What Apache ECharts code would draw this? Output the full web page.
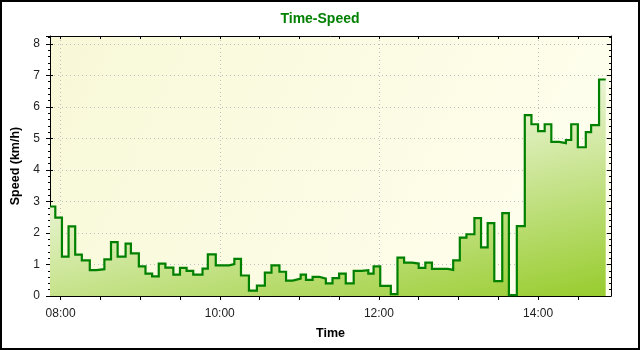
<!DOCTYPE html>
<html><head><meta charset="utf-8">
<script src="https://cdn.jsdelivr.net/npm/echarts@6/dist/echarts.min.js"></script>
<style>html,body{margin:0;padding:0;background:#fff}#c{width:640px;height:350px}</style>
</head><body><div id="c"></div>
<script>
const titleText = 'Time-Speed';
const xName = 'Time';
const yName = 'Speed (km/h)';
const axisStart = '07:52';
const axisEnd = '14:55';
const yMax = 8.25;

const times = ['07:52','07:56','08:01','08:06','08:11','08:16','08:22','08:27','08:33','08:38','08:43','08:49','08:53','08:59','09:04','09:09','09:14','09:19','09:25','09:30','09:35','09:40','09:47','09:51','09:57','10:07','10:11','10:16','10:22','10:28','10:34','10:39','10:45','10:50','10:55','11:01','11:05','11:10','11:15','11:20','11:25','11:30','11:35','11:41','11:47','11:52','11:56','12:01','12:09','12:14','12:19','12:25','12:30','12:35','12:40','12:52','12:56','13:01','13:06','13:12','13:17','13:22','13:27','13:33','13:38','13:44','13:50','13:55','14:00','14:05','14:10','14:16','14:21','14:25','14:30','14:36','14:40','14:46','14:51'];

const speeds = [2.84,2.49,1.25,2.21,1.31,1.13,0.82,0.85,1.16,1.71,1.25,1.66,1.35,0.94,0.71,0.62,1.03,0.90,0.68,0.89,0.80,0.68,0.87,1.32,0.97,1.01,1.18,0.65,0.17,0.33,0.74,0.97,0.77,0.49,0.55,0.68,0.51,0.61,0.55,0.40,0.57,0.71,0.40,0.80,0.82,0.71,0.94,0.32,0.06,1.22,1.06,1.03,0.89,1.06,0.86,0.83,1.13,1.85,1.96,2.47,1.54,2.31,0.47,2.63,0.03,2.22,5.74,5.45,5.23,5.45,4.89,4.85,4.95,5.45,4.72,5.20,5.42,6.87,6.87];

function toMin(s){ const p = s.split(':'); return (+p[0]) * 60 + (+p[1]); }
function toLabel(m){ return String(Math.floor(m / 60)).padStart(2, '0') + ':' + String(m % 60).padStart(2, '0'); }
const cats = [];
for (let m = toMin(axisStart); m <= toMin(axisEnd); m++) cats.push(toLabel(m));
const every = n => (i, v) => toMin(v) % n === 0;
const seriesData = times.map((t, i) => [t, speeds[i]]);

const font = '"Liberation Sans", Arial, sans-serif';
const black = { color: '#000', width: 1 };
const gridLine = { color: '#c0c0c0', width: 1, type: [1, 3] };
const isInt = v => Math.abs(v - Math.round(v)) < 1e-6;

function catAxis(extra) {
  return Object.assign({
    type: 'category', data: cats, boundaryGap: false, gridIndex: 0,
    axisLine: { show: false, onZero: false },
    axisTick: { show: false },
    axisLabel: { show: false },
    splitLine: { show: false }
  }, extra);
}
function valAxis(extra) {
  return Object.assign({
    type: 'value', min: 0, max: yMax, gridIndex: 0,
    axisLine: { show: false, onZero: false },
    axisTick: { show: false },
    axisLabel: { show: false },
    splitLine: { show: false }
  }, extra);
}

const chart = echarts.init(document.getElementById('c'), null, { renderer: 'canvas' });
chart.setOption({
  animation: false,
  backgroundColor: '#ffffff',
  title: {
    text: titleText, left: 'center', top: 7,
    textStyle: { fontFamily: font, fontWeight: 'bold', fontSize: 14, color: '#008000' }
  },
  grid: {
    left: 50, right: 29, top: 36, bottom: 54, show: true, borderWidth: 0,
    backgroundColor: { type: 'linear', x: 0, y: 0, x2: 1, y2: 1,
      colorStops: [{ offset: 0, color: '#f8f8d8' }, { offset: 1, color: '#fffff0' }] }
  },
  xAxis: [
    catAxis({
      position: 'bottom',
      axisLine: { show: true, onZero: false, lineStyle: black },
      axisTick: { show: true, inside: false, length: 4, interval: every(30), lineStyle: black },
      axisLabel: { show: true, interval: every(120), margin: 12, color: '#222', fontFamily: font, fontSize: 12 },
      splitLine: { show: true, interval: every(120), lineStyle: gridLine },
      name: xName, nameLocation: 'middle', nameGap: 31,
      nameTextStyle: { fontFamily: font, fontWeight: 'bold', fontSize: 12.5, color: '#000' }
    }),
    catAxis({
      position: 'bottom',
      axisTick: { show: true, inside: true, length: 4, interval: every(120), lineStyle: black }
    }),
    catAxis({
      position: 'top',
      axisLine: { show: true, onZero: false, lineStyle: black },
      axisTick: { show: true, inside: true, length: 3, interval: every(30), lineStyle: black }
    })
  ],
  yAxis: [
    valAxis({
      position: 'left', interval: 1,
      axisLine: { show: true, onZero: false, lineStyle: black },
      axisTick: { show: true, inside: false, length: 4, lineStyle: black },
      axisLabel: { show: true, margin: 10, color: '#222', fontFamily: font, fontSize: 12,
        formatter: v => isInt(v) ? String(Math.round(v)) : '' },
      splitLine: { show: true, lineStyle: gridLine },
      name: yName, nameLocation: 'middle', nameGap: 28, nameRotate: 90,
      nameTextStyle: { fontFamily: font, fontWeight: 'bold', fontSize: 12.5, color: '#000' }
    }),
    valAxis({ position: 'left', interval: 0.2,
      axisTick: { show: true, inside: false, length: 2, lineStyle: black } }),
    valAxis({ position: 'left', interval: 1,
      axisTick: { show: true, inside: true, length: 3, lineStyle: black } }),
    valAxis({ position: 'right', interval: 1,
      axisLine: { show: true, onZero: false, lineStyle: black },
      axisTick: { show: true, inside: true, length: 4, lineStyle: black } }),
    valAxis({ position: 'right', interval: 0.2,
      axisTick: { show: true, inside: true, length: 2, lineStyle: black } })
  ],
  graphic: [{
    type: 'rect', silent: true, z: 100,
    shape: { x: 1, y: 1, width: 638, height: 348 },
    style: { fill: null, stroke: '#000', lineWidth: 2 }
  }],
  series: [{
    type: 'line', xAxisIndex: 0, yAxisIndex: 0,
    data: seriesData, step: 'end', showSymbol: false, symbol: 'none',
    lineStyle: { color: '#008000', width: 2.2, join: 'miter' },
    areaStyle: { opacity: 1, color: { type: 'linear', global: true, x: 73, y: 138, x2: 129, y2: 394,
      colorStops: [{ offset: 0, color: '#ffffff' }, { offset: 1, color: '#9acd32' }] } },
    z: 5
  }]
});
</script></body></html>
